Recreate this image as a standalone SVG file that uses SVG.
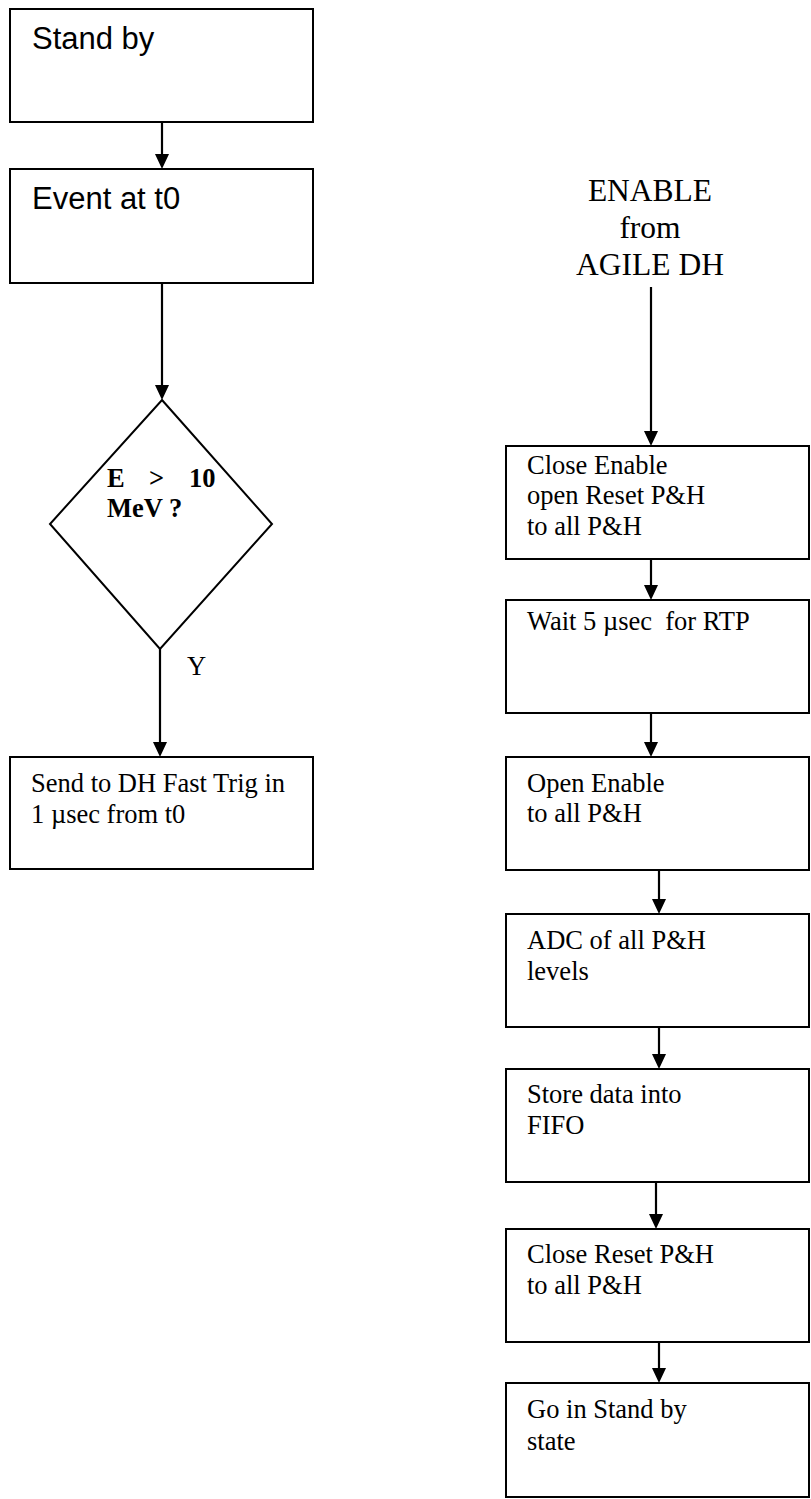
<svg xmlns="http://www.w3.org/2000/svg" width="811" height="1499" viewBox="0 0 811 1499">
<style>
.box{fill:#fff;stroke:#000;stroke-width:2}
.sans{font-family:"Liberation Sans",Arial,sans-serif;font-size:31px;fill:#000}
.serif{font-family:"Liberation Serif","Times New Roman",serif;font-size:26.5px;fill:#000;white-space:pre}
.big{font-family:"Liberation Serif","Times New Roman",serif;font-size:31.5px;fill:#000;text-anchor:middle}
.bold{font-weight:bold}
.conn{stroke:#000;stroke-width:2.2;fill:none}
.head{fill:#000}
</style>
<defs>
<path id="ah" d="M-7,-15 L7,-15 L0,0 Z"/>
</defs>
<rect width="811" height="1499" fill="#fff"/>
<g id="connectors">
<line class="conn" x1="162" y1="122" x2="162" y2="156"/>
<use href="#ah" class="head" x="162" y="169"/>
<line class="conn" x1="162" y1="283" x2="162" y2="387"/>
<use href="#ah" class="head" x="162" y="400"/>
<line class="conn" x1="160" y1="649" x2="160" y2="744"/>
<use href="#ah" class="head" x="160" y="757"/>
<line class="conn" x1="651" y1="287" x2="651" y2="433"/>
<use href="#ah" class="head" x="651" y="446"/>
<line class="conn" x1="651" y1="559" x2="651" y2="587"/>
<use href="#ah" class="head" x="651" y="600"/>
<line class="conn" x1="651" y1="713" x2="651" y2="744"/>
<use href="#ah" class="head" x="651" y="757"/>
<line class="conn" x1="659" y1="870" x2="659" y2="901"/>
<use href="#ah" class="head" x="659" y="914"/>
<line class="conn" x1="659" y1="1027" x2="659" y2="1056"/>
<use href="#ah" class="head" x="659" y="1069"/>
<line class="conn" x1="656" y1="1182" x2="656" y2="1216"/>
<use href="#ah" class="head" x="656" y="1229"/>
<line class="conn" x1="659" y1="1342" x2="659" y2="1370"/>
<use href="#ah" class="head" x="659" y="1383"/>
<text class="serif" x="187" y="675">Y</text>
</g>
<g id="standby">
<rect class="box" x="10" y="9" width="303" height="113"/>
<text class="sans" x="32" y="49">Stand by</text>
</g>
<g id="event">
<rect class="box" x="10" y="169" width="303" height="114"/>
<text class="sans" x="32" y="209">Event at t0</text>
</g>
<g id="decision">
<polygon class="box" points="162,400 272,524 160,649 50,524"/>
<text class="serif bold" y="487"><tspan x="107">E</tspan><tspan x="149">&gt;</tspan><tspan x="189">10</tspan></text>
<text class="serif bold" x="107" y="517">MeV ?</text>
</g>
<g id="send">
<rect class="box" x="10" y="757" width="303" height="112"/>
<text class="serif" x="31" y="792">Send to DH Fast Trig in</text>
<text class="serif" x="31" y="823">1 µsec from t0</text>
</g>
<g id="enable">
<text class="big" x="650" y="201">ENABLE</text>
<text class="big" x="650" y="238">from</text>
<text class="big" x="650" y="275">AGILE DH</text>
</g>
<g id="close-enable">
<rect class="box" x="506" y="446" width="303" height="113"/>
<text class="serif" x="527" y="474">Close Enable</text>
<text class="serif" x="527" y="504">open Reset P&amp;H</text>
<text class="serif" x="527" y="535">to all P&amp;H</text>
</g>
<g id="wait">
<rect class="box" x="506" y="600" width="303" height="113"/>
<text class="serif" x="527" y="630">Wait 5 µsec  for RTP</text>
</g>
<g id="open-enable">
<rect class="box" x="506" y="757" width="303" height="113"/>
<text class="serif" x="527" y="792">Open Enable</text>
<text class="serif" x="527" y="822">to all P&amp;H</text>
</g>
<g id="adc">
<rect class="box" x="506" y="914" width="303" height="113"/>
<text class="serif" x="527" y="949">ADC of all P&amp;H</text>
<text class="serif" x="527" y="980">levels</text>
</g>
<g id="store">
<rect class="box" x="506" y="1069" width="303" height="113"/>
<text class="serif" x="527" y="1103">Store data into</text>
<text class="serif" x="527" y="1134">FIFO</text>
</g>
<g id="close-reset">
<rect class="box" x="506" y="1229" width="303" height="113"/>
<text class="serif" x="527" y="1263">Close Reset P&amp;H</text>
<text class="serif" x="527" y="1294">to all P&amp;H</text>
</g>
<g id="go-standby">
<rect class="box" x="506" y="1383" width="303" height="114"/>
<text class="serif" x="527" y="1418">Go in Stand by</text>
<text class="serif" x="527" y="1450">state</text>
</g>
</svg>
